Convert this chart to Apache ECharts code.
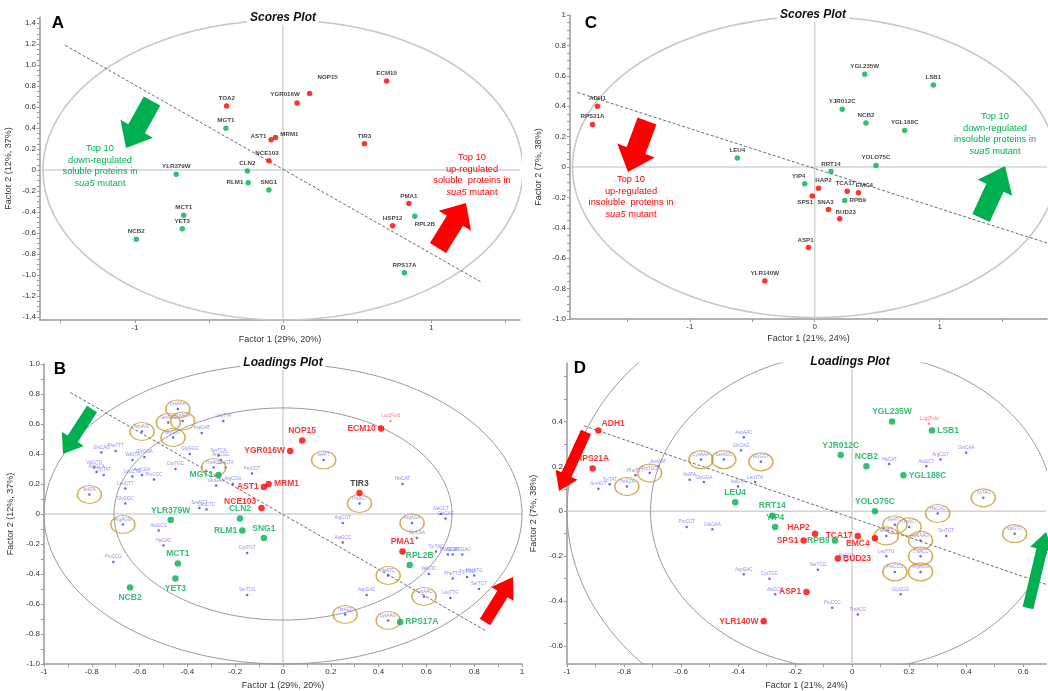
<!DOCTYPE html>
<html><head><meta charset="utf-8">
<script src="https://cdn.jsdelivr.net/npm/echarts@6/dist/echarts.min.js"></script>
<style>html,body{margin:0;padding:0;background:#fff}#c{width:1048px;height:691px}</style>
</head><body><div id="c"></div><script>
// ---------------- DATA ----------------
// Panel A (scores, soluble)
const A_upNames=['TOA2','AST1','MRM1','NCE103','YGR016W','NOP15','ECM10','TIR3','PMA1','HSP12'];
const A_upX=[-0.38,-0.08,-0.05,-0.095,0.095,0.18,0.70,0.55,0.85,0.74];
const A_upY=[0.61,0.29,0.31,0.09,0.64,0.73,0.85,0.25,-0.32,-0.53];
const A_downNames=['MGT1','CLN2','RLM1','SNG1','YLR379W','MCT1','YET3','NCB2','RPL2B','RPS17A'];
const A_downX=[-0.385,-0.24,-0.235,-0.095,-0.72,-0.67,-0.68,-0.99,0.89,0.82];
const A_downY=[0.40,-0.01,-0.12,-0.19,-0.04,-0.43,-0.56,-0.66,-0.44,-0.98];
// Panel C (scores, insoluble)
const C_upNames=['ADH1','RPS21A','YLR140W','HAP2','SPS1','TCA17','EMC4','SNA3','BUD23','ASP1'];
const C_upX=[-1.74,-1.78,-0.40,0.03,-0.02,0.26,0.35,0.11,0.20,-0.05];
const C_upY=[0.40,0.28,-0.75,-0.14,-0.19,-0.16,-0.17,-0.28,-0.34,-0.53];
const C_downNames=['LEU4','YGL235W','LSB1','YJR012C','NCB2','YGL188C','YOLO75C','RRT14','YIP4','RPB9'];
const C_downX=[-0.62,0.40,0.95,0.22,0.41,0.72,0.49,0.13,-0.08,0.24];
const C_downY=[0.06,0.61,0.54,0.38,0.29,0.24,0.01,-0.03,-0.11,-0.22];
// Panel B (loadings, soluble)
const B_upNames=['NOP15','YGR016W','ECM10','MRM1','AST1','NCE103','TIR3','PMA1'];
const B_upX=[0.08,0.03,0.41,-0.06,-0.08,-0.09,0.32,0.50];
const B_upY=[0.49,0.42,0.57,0.20,0.18,0.04,0.14,-0.25];
const B_downNames=['MGT1','CLN2','RLM1','SNG1','YLR379W','MCT1','YET3','NCB2','RPL2B','RPS17A'];
const B_downX=[-0.27,-0.18,-0.17,-0.08,-0.47,-0.44,-0.45,-0.64,0.53,0.49];
const B_downY=[0.26,-0.03,-0.11,-0.16,-0.04,-0.33,-0.43,-0.49,-0.34,-0.72];
const B_codonNames=['LysAAA','AsnAAT','SerAGC','ThrACA','GlyGGT','LeuTTA','AspGAT','GlyGGG','GlnCAG','PheTTT','ValGTA','GlyGGA','ValGTG','AlaGCA','TyrTAT','CysTGC','LeuCTG','ArgCGA','ProCCC','LeuCTT','IleATA','GlyGGC','SerTCA','ArgCGC','LeuCTA','ThrACG','GluGAA','ArgCGG','ProCCT','SerAGT','LeuCTC','IleATT','HisCAT','ThrACT','AlaGCT','ArgCGT','AlaGCC','ArgAGA','GluGAC','GlnCAA','TyrTAC','ValGTT','ProCCA','GluGAG','IleATC','ValGTC','PheTTC','TrpTGG','MetATG','SerTCT','AsnAAC','LeuTTG','AspGAC','ThrACC','LysAAG','ArgAGG','AlaGCG','HisCAC','ProCCG','SerTCG','CysTGT'];
const B_codonX=[-0.44,-0.59,-0.48,-0.42,-0.46,-0.25,-0.34,-0.39,-0.76,-0.70,-0.63,-0.58,-0.79,-0.78,-0.75,-0.45,-0.63,-0.59,-0.54,-0.66,-0.81,-0.66,-0.27,-0.26,-0.24,-0.29,-0.28,-0.21,-0.13,-0.35,-0.32,0.17,0.50,0.32,0.66,0.25,0.25,0.54,0.68,0.56,0.64,0.71,0.69,0.75,0.44,0.61,0.71,0.77,0.80,0.82,0.59,0.70,0.35,0.26,0.44,-0.67,-0.52,-0.50,-0.71,-0.15,-0.15];
const B_codonY=[0.70,0.55,0.61,0.62,0.51,0.62,0.54,0.40,0.41,0.42,0.36,0.38,0.31,0.28,0.26,0.30,0.25,0.26,0.23,0.17,0.13,0.07,0.39,0.36,0.31,0.31,0.19,0.20,0.27,0.04,0.03,0.36,0.20,0.07,0.00,-0.06,-0.19,-0.06,-0.03,-0.16,-0.25,-0.27,-0.27,-0.27,-0.41,-0.40,-0.43,-0.42,-0.41,-0.50,-0.55,-0.56,-0.54,-0.67,-0.71,-0.07,-0.11,-0.21,-0.32,-0.54,-0.26];
const B_ringed=['LysAAA','AsnAAT','SerAGC','ThrACA','GlyGGT','IleATA','ThrACG','IleATT','ThrACT','ArgAGA','IleATC','AsnAAC','ThrACC','LysAAG','ArgAGG'];
const B_response={name:'Log2Fold',x:0.45,y:0.62};
// Panel D (loadings, insoluble)
const D_upNames=['ADH1','RPS21A','HAP2','SPS1','TCA17','EMC4','BUD23','ASP1','YLR140W'];
const D_upX=[-0.89,-0.91,-0.13,-0.17,0.02,0.08,-0.05,-0.16,-0.31];
const D_upY=[0.36,0.19,-0.10,-0.13,-0.11,-0.12,-0.21,-0.36,-0.49];
const D_downNames=['YGL235W','LSB1','YJR012C','NCB2','YGL188C','LEU4','RRT14','YOLO75C','YIP4','RPB9'];
const D_downX=[0.14,0.28,-0.04,0.05,0.18,-0.41,-0.28,0.08,-0.27,-0.06];
const D_downY=[0.40,0.36,0.25,0.20,0.16,0.04,-0.02,0.00,-0.07,-0.13];
const D_codonNames=['TrpTGG','AsnAAT','ThrACA','TyrTAT','PheTTT','SerAGT','LysAAA','SerAGC','GlyGGT','GlnCAG','AsnAAC','ValGTA','LeuTTA','GlyGGA','IleATA','ProCCT','GluGAA','AspGAC','CysTGC','AlaGCC','ProCCG','ThrACG','SerTCG','HisCAT','AlaGCT','GlnCAA','ArgCGT','TyrTAC','ValGTC','IleATC','ThrACT','IleATT','LysAAG','ThrACC','ArgAGG','ProCCC','HisCAC','SerTCT','LeuTTG','GlyGGG','AlaGCA'];
const D_codonX=[-0.71,-0.68,-0.79,-0.85,-0.76,-0.89,-0.53,-0.45,-0.32,-0.39,-0.38,-0.40,-0.34,-0.52,-0.57,-0.58,-0.49,-0.38,-0.29,-0.27,-0.07,0.02,-0.12,0.13,0.26,0.40,0.31,0.46,0.57,0.15,0.20,0.12,0.24,0.24,0.24,0.15,0.30,0.33,0.12,0.17,-0.02];
const D_codonY=[0.17,0.20,0.11,0.12,0.16,0.10,0.23,0.23,0.22,0.27,0.33,0.11,0.13,0.13,0.14,-0.07,-0.08,-0.28,-0.30,-0.37,-0.43,-0.46,-0.26,0.21,0.20,0.26,0.23,0.06,-0.10,-0.06,-0.07,-0.11,-0.13,-0.20,-0.27,-0.27,-0.01,-0.11,-0.20,-0.37,-0.22];
const D_ringed=['TrpTGG','ThrACA','LysAAA','SerAGC','GlyGGT','TyrTAC','ValGTC','IleATC','ThrACT','IleATT','LysAAG','ThrACC','ArgAGG','ProCCC','HisCAC'];
const D_response={name:'Log2Fold',x:0.27,y:0.39};

// Tick labels
const A_xLabelVals=[-1,0,1], A_xLabels=['-1','0','1'], A_xTickVals=[-1.5,-1,-0.5,0,0.5,1,1.5];
const A_yLabelVals=[-1.4,-1.2,-1,-0.8,-0.6,-0.4,-0.2,0,0.2,0.4,0.6,0.8,1,1.2,1.4];
const A_yLabels=['-1.4','-1.2','-1.0','-0.8','-0.6','-0.4','-0.2','0','0.2','0.4','0.6','0.8','1.0','1.2','1.4'];
const C_xLabelVals=[-1,0,1], C_xLabels=['-1','0','1'], C_xTickVals=[-1.5,-1,-0.5,0,0.5,1,1.5];
const C_yLabelVals=[-1,-0.8,-0.6,-0.4,-0.2,0,0.2,0.4,0.6,0.8,1];
const C_yLabels=['-1.0','-0.8','-0.6','-0.4','-0.2','0','0.2','0.4','0.6','0.8','1'];
const B_xLabelVals=[-1,-0.8,-0.6,-0.4,-0.2,0,0.2,0.4,0.6,0.8,1];
const B_xLabels=['-1','-0.8','-0.6','-0.4','-0.2','0','0.2','0.4','0.6','0.8','1'];
const B_yLabelVals=[-1,-0.8,-0.6,-0.4,-0.2,0,0.2,0.4,0.6,0.8,1];
const B_yLabels=['-1.0','-0.8','-0.6','-0.4','-0.2','0','0.2','0.4','0.6','0.8','1.0'];
const D_xLabelVals=[-1,-0.8,-0.6,-0.4,-0.2,0,0.2,0.4,0.6];
const D_xLabels=['-1','-0.8','-0.6','-0.4','-0.2','0','0.2','0.4','0.6'];
const D_yLabelVals=[-0.6,-0.4,-0.2,0,0.2,0.4];
const D_yLabels=['-0.6','-0.4','-0.2','0','0.2','0.4'];

// ---------------- STYLE / LAYOUT ----------------
const RED='#ff0000', GREEN='#00b050', FONT='"Liberation Sans", Arial, sans-serif';
const panels=[
 {key:'A', grid:{left:40,top:17,width:480,height:303}, x:[-1.64,1.6], y:[-1.43,1.46],
  xName:'Factor 1 (29%, 20%)', yName:'Factor 2 (12%, 37%)',
  xl:[A_xLabelVals,A_xLabels], yl:[A_yLabelVals,A_yLabels], xt:A_xTickVals, yt:0.05,
  ell:[[1.62,1.43]], ellColor:'#c8c8c8', ellW:1.6, dash:[[-1.47,1.19],[1.34,-1.07]]},
 {key:'C', grid:{left:570,top:15,width:477,height:304}, x:[-1.96,1.86], y:[-1,1.0],
  xName:'Factor 1 (21%, 24%)', yName:'Factor 2 (7%, 38%)',
  xl:[C_xLabelVals,C_xLabels], yl:[C_yLabelVals,C_yLabels], xt:C_xTickVals, yt:0.05,
  ell:[[1.94,0.99]], ellColor:'#c8c8c8', ellW:1.6, dash:[[-1.9,0.49],[1.86,-0.5]]},
 {key:'B', grid:{left:44,top:364,width:478,height:300}, x:[-1,1], y:[-1,1],
  xName:'Factor 1 (29%, 20%)', yName:'Factor 2 (12%, 37%)',
  xl:[B_xLabelVals,B_xLabels], yl:[B_yLabelVals,B_yLabels], xt:0.1, yt:0.1,
  ell:[[1,1],[0.707,0.707]], ellColor:'#9a9a9a', ellW:1, dash:[[-0.89,0.81],[0.85,-0.78]]},
 {key:'D', grid:{left:567,top:363,width:479,height:308}, x:[-1,0.68], y:[-0.68,0.66],
  xName:'Factor 1 (21%, 24%)', yName:'Factor 2 (7%, 38%)',
  xl:[D_xLabelVals,D_xLabels], yl:[D_yLabelVals,D_yLabels], xt:0.1, yt:0.1,
  ell:[[1,1],[0.707,0.707]], ellColor:'#9a9a9a', ellW:1, dash:[[-0.94,0.38],[0.69,-0.33]]}
];
const labelPos={
 A:{TOA2:['top'],AST1:['left',0,-3],MRM1:['right',0,-3],NCE103:['top',-2,0],YGR016W:['top',-12,-1],NOP15:['top',18,-8],ECM10:['top'],TIR3:['top'],PMA1:['top'],HSP12:['top'],
    MGT1:['top'],CLN2:['top'],RLM1:['left'],SNG1:['top'],YLR379W:['top'],MCT1:['top'],YET3:['top'],NCB2:['top'],RPL2B:['bottom',10,0],RPS17A:['top']},
 C:{ADH1:['top'],RPS21A:['top'],YLR140W:['top'],HAP2:['top',5,0],SPS1:['bottom',-7,-1],TCA17:['top',-2,0],EMC4:['top',6,0],SNA3:['top',-3,0],BUD23:['top',6,1],ASP1:['top',-3,0],
    LEU4:['top'],YGL235W:['top'],LSB1:['top'],YJR012C:['top'],NCB2:['top'],YGL188C:['top'],YOLO75C:['top'],RRT14:['top'],YIP4:['top',-6,0],RPB9:['right']},
 B:{NOP15:['top'],YGR016W:['left'],ECM10:['left'],MRM1:['right'],AST1:['left'],NCE103:['left',0,-6],TIR3:['top'],PMA1:['top'],
    MGT1:['left'],CLN2:['top'],RLM1:['left'],SNG1:['top'],YLR379W:['top'],MCT1:['top'],YET3:['bottom'],NCB2:['bottom'],RPL2B:['top',10,0],RPS17A:['right']},
 D:{ADH1:['right',-2,-7],RPS21A:['top'],HAP2:['left',0,-6],SPS1:['left'],TCA17:['left'],EMC4:['left',0,5],BUD23:['right'],ASP1:['left'],YLR140W:['left'],
    YGL235W:['top'],LSB1:['right'],YJR012C:['top'],NCB2:['top'],YGL188C:['right'],LEU4:['top'],RRT14:['top'],YOLO75C:['top'],YIP4:['top'],RPB9:['left']}
};
const groups={
 A:{up:[A_upNames,A_upX,A_upY],down:[A_downNames,A_downX,A_downY]},
 C:{up:[C_upNames,C_upX,C_upY],down:[C_downNames,C_downX,C_downY]},
 B:{up:[B_upNames,B_upX,B_upY],down:[B_downNames,B_downX,B_downY],cod:[B_codonNames,B_codonX,B_codonY],ring:B_ringed,resp:B_response},
 D:{up:[D_upNames,D_upX,D_upY],down:[D_downNames,D_downX,D_downY],cod:[D_codonNames,D_codonX,D_codonY],ring:D_ringed,resp:D_response}
};

function steps(lo,hi,st){const r=[];const a=Math.ceil(lo/st-1e-9),b=Math.floor(hi/st+1e-9);for(let i=a;i<=b;i++)r.push(+(i*st).toFixed(4));return r;}
function fmt(vals,texts){return v=>{const i=vals.findIndex(t=>Math.abs(t-v)<1e-6);return i>=0?texts[i]:'';};}
function ellipse(a,b){const p=[];for(let i=0;i<=360;i+=2){const t=i*Math.PI/180;p.push([a*Math.cos(t),b*Math.sin(t)]);}return p;}

const grids=[],xAxes=[],yAxes=[],series=[];
panels.forEach((P,gi)=>{
  grids.push(P.grid);
  const isScore=(P.key==='A'||P.key==='C');
  const axisCommon={gridIndex:gi,type:'value',splitLine:{show:false},
    axisLine:{show:true,onZero:false,lineStyle:{color:'#999',width:1.5}},
    nameLocation:'middle',nameTextStyle:{fontSize:9,color:'#333',fontFamily:FONT}};
  xAxes.push(Object.assign({},axisCommon,{min:P.x[0],max:P.x[1],name:P.xName,nameGap:isScore?15:17,
    axisTick:{show:true,length:3,customValues:Array.isArray(P.xt)?P.xt:steps(P.x[0],P.x[1],P.xt),lineStyle:{color:'#999'}},
    axisLabel:{customValues:P.xl[0],formatter:fmt(P.xl[0],P.xl[1]),fontSize:8,color:'#333',margin:4,fontFamily:FONT}}));
  yAxes.push(Object.assign({},axisCommon,{min:P.y[0],max:P.y[1],name:P.yName,nameGap:isScore?27:29,
    axisTick:{show:true,length:3,customValues:steps(P.y[0],P.y[1],P.yt),lineStyle:{color:'#999'}},
    axisLabel:{customValues:P.yl[0],formatter:fmt(P.yl[0],P.yl[1]),fontSize:8,color:'#333',margin:4,fontFamily:FONT}}));
  const base={xAxisIndex:gi,yAxisIndex:gi,silent:true,animation:false};
  series.push(Object.assign({},base,{type:'line',data:[[P.x[0],0],[P.x[1],0]],showSymbol:false,lineStyle:{color:'#d3d3d3',width:1.5},z:1}));
  series.push(Object.assign({},base,{type:'line',data:[[0,P.y[0]],[0,P.y[1]]],showSymbol:false,lineStyle:{color:'#d3d3d3',width:1.5},z:1}));
  P.ell.forEach(e=>series.push(Object.assign({},base,{type:'line',data:ellipse(e[0],e[1]),showSymbol:false,lineStyle:{color:P.ellColor,width:P.ellW},z:2})));
  series.push(Object.assign({},base,{type:'line',data:P.dash,showSymbol:false,lineStyle:{color:'#444',width:0.8,type:[3,2]},z:3}));
  const G=groups[P.key];
  if(G.cod){
    const cd=G.cod[0].map((n,i)=>({name:n,value:[G.cod[1][i],G.cod[2][i]]}));
    series.push(Object.assign({},base,{type:'scatter',data:cd,symbolSize:2.5,itemStyle:{color:'#3b3bff'},z:4,
      label:{show:true,position:'top',distance:1,formatter:'{b}',fontSize:4.5,color:'#6e6eff',fontFamily:FONT}}));
    const rd=cd.filter(d=>G.ring.includes(d.name));
    series.push(Object.assign({},base,{type:'scatter',data:rd,symbol:'circle',symbolSize:[24,18],
      itemStyle:{color:'rgba(0,0,0,0)',borderColor:'#c99a2e',borderWidth:1.4},z:5}));
    series.push(Object.assign({},base,{type:'scatter',data:[{name:G.resp.name,value:[G.resp.x,G.resp.y]}],symbolSize:2.5,itemStyle:{color:'#ff6b6b'},z:4,
      label:{show:true,position:'top',distance:1,formatter:'{b}',fontSize:4.5,color:'#ff5a5a',fontFamily:FONT}}));
  }
  [['up',RED],['down',GREEN]].forEach(([k,col])=>{
    const g=G[k];
    const data=g[0].map((n,i)=>{
      const lp=(labelPos[P.key]||{})[n]||['top'];
      let lcol=isScore?'#111':col;
      if(P.key==='B'&&n==='TIR3') lcol='#111';
      return {name:n,value:[g[1][i],g[2][i]],label:{position:lp[0],offset:[lp[1]||0,lp[2]||0],color:lcol}};
    });
    series.push(Object.assign({},base,{type:'scatter',data:data,symbolSize:isScore?5.5:6.5,itemStyle:{color:col},z:6,
      label:{show:true,formatter:'{b}',distance:2,fontSize:isScore?6.2:8.5,fontWeight:'bold',fontFamily:FONT}}));
  });
});

function arrow(tx,ty,px,py,w,hw,hl,color){
  const L=Math.hypot(px-tx,py-ty),ux=(px-tx)/L,uy=(py-ty)/L,nx=-uy,ny=ux;
  const hx=px-ux*hl,hy=py-uy*hl;
  const pts=[[tx+nx*w/2,ty+ny*w/2],[hx+nx*w/2,hy+ny*w/2],[hx+nx*hw/2,hy+ny*hw/2],[px,py],[hx-nx*hw/2,hy-ny*hw/2],[hx-nx*w/2,hy-ny*w/2],[tx-nx*w/2,ty-ny*w/2]];
  return {type:'polygon',z:20,shape:{points:pts},style:{fill:color}};
}
function note(cx,top,lines,color){
  const fs=9.3,lh=11.5;
  const rich={a:{fill:color,fontSize:fs,fontFamily:FONT,lineHeight:lh},i:{fill:color,fontSize:fs,fontFamily:FONT,fontStyle:'italic',lineHeight:lh}};
  return {type:'text',z:20,style:{x:cx,y:top,align:'center',verticalAlign:'top',text:lines,rich:rich,fill:color,fontSize:fs,fontFamily:FONT,lineHeight:lh}};
}
function title(cx,cy,t){return {type:'text',z:21,style:{x:cx,y:cy,align:'center',verticalAlign:'middle',text:t,fill:'#111',font:'italic bold 12px '+FONT,backgroundColor:'#fff',padding:[1,3]}};}
function letter(cx,cy,t){return {type:'text',z:21,style:{x:cx,y:cy,align:'center',verticalAlign:'middle',text:t,fill:'#000',font:'bold 17px '+FONT}};}

const graphics=[
  title(283,18,'Scores Plot'), title(813,15,'Scores Plot'), title(283,363,'Loadings Plot'), title(850,362,'Loadings Plot'),
  letter(58,23,'A'), letter(591,23,'C'), letter(60,369,'B'), letter(580,368,'D'),
  arrow(152,101,126,148,19,37,22,GREEN),
  arrow(438,248,466,203,19,38,21,RED),
  arrow(647,121,628,172,20,40,23,RED),
  arrow(981,218,1005,166,19,38,24,GREEN),
  arrow(92,409,63,454,12,26,18,GREEN),
  arrow(485,622,513,577,12,26,20,RED),
  arrow(586,432,559,491,11,24,18,RED),
  arrow(1028,608,1046,532,11,24,18,GREEN),
  note(100,143,'{a|Top 10}\n{a|down-regulated}\n{a|soluble proteins in}\n{i|sua5}{a| mutant}',GREEN),
  note(472,152,'{a|Top 10}\n{a|up-regulated}\n{a|soluble  proteins in}\n{i|sua5}{a| mutant}',RED),
  note(631,174,'{a|Top 10}\n{a|up-regulated}\n{a|insoluble  proteins in}\n{i|sua5}{a| mutant}',RED),
  note(995,111,'{a|Top 10}\n{a|down-regulated}\n{a|insoluble proteins in}\n{i|sua5}{a| mutant}',GREEN)
];

const chart=echarts.init(document.getElementById('c'),null,{renderer:'canvas'});
chart.setOption({animation:false,backgroundColor:'#fff',grid:grids,xAxis:xAxes,yAxis:yAxes,series:series,graphic:graphics});
</script></body></html>
